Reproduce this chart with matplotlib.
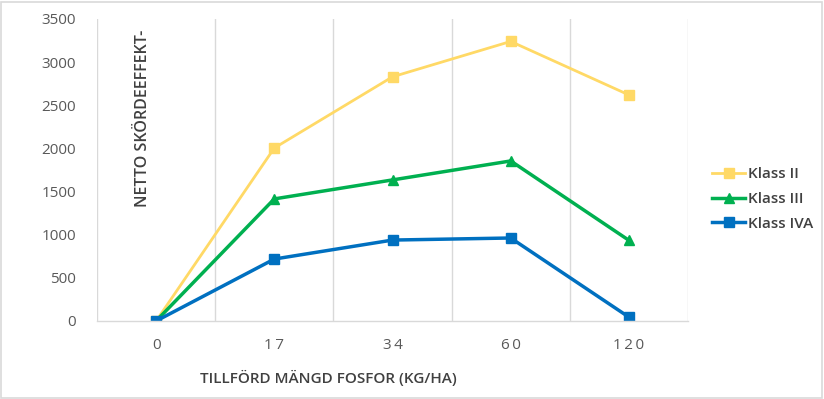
import matplotlib
matplotlib.use("Agg")
import matplotlib.pyplot as plt
from matplotlib.lines import Line2D
from matplotlib.patches import Rectangle
import numpy as np

categories = ["0", "17", "34", "60", "120"]
klass_ii = [0, 2005, 2830, 3240, 2620]
klass_iii = [0, 1415, 1635, 1855, 935]
klass_iva = [0, 718, 938, 962, 45]
series_names = ["Klass II", "Klass III", "Klass IVA"]
colors = ["#FFD966", "#00B050", "#0070C0"]
yticks = [0, 500, 1000, 1500, 2000, 2500, 3000, 3500]

plt.rcParams['font.family'] = ['Open Sans', 'DejaVu Sans']

W, H = 824, 399
fig = plt.figure(figsize=(W / 100, H / 100), dpi=100)
ax = fig.add_axes([97 / W, 1 - 321 / H, (688 - 97) / W, (321 - 19) / H])

x = np.arange(len(categories))
ax.plot(x, klass_ii, color=colors[0], lw=2.0, marker="s", ms=7.5, label=series_names[0])
ax.plot(x, klass_iii, color=colors[1], lw=2.5, marker="^", ms=7.5, label=series_names[1])
ax.plot(x, klass_iva, color=colors[2], lw=2.5, marker="s", ms=7, label=series_names[2])

ax.set_xlim(-0.5, len(categories) - 0.5)
ax.set_ylim(0, 3500)
ax.set_yticks(yticks)
ax.set_yticklabels([str(v) for v in yticks], fontsize=11, color="#595959")
ax.set_xticks(x)
ax.set_xticklabels(["\u2009".join(c) for c in categories], fontsize=11, color="#595959")
ax.set_xticks(np.arange(-0.5, len(categories), 1.0), minor=True)
ax.grid(True, which="minor", axis="x", color="#d9d9d9", lw=1)
ax.grid(False, which="major")
ax.tick_params(axis="both", which="both", length=0)
ax.tick_params(axis="x", pad=12)
ax.tick_params(axis="y", pad=15)
for s in ["top", "right", "left"]:
    ax.spines[s].set_visible(False)
ax.spines["bottom"].set_color("#d9d9d9")
ax.spines["bottom"].set_linewidth(1)
ax.set_axisbelow(True)

fig.text(143 / W, 1 - 118 / H, "NETTO SKÖRDEEFFEKT-", rotation=90, ha="center", va="center",
         fontsize=11.5, color="#404040", fontweight="semibold")
fig.text(200 / W, 1 - 378 / H, "TILLFÖRD MÄNGD FOSFOR (KG/HA)", ha="left", va="center",
         fontsize=11, color="#404040", fontweight="semibold")

handles = [Line2D([0], [0], color=colors[0], lw=2.0, marker="s", ms=7),
           Line2D([0], [0], color=colors[1], lw=2.5, marker="^", ms=7),
           Line2D([0], [0], color=colors[2], lw=2.5, marker="s", ms=6.5)]
fig.legend(handles, series_names, loc="center left", bbox_to_anchor=(698 / W, 1 - 199 / H),
           frameon=False, handlelength=2.2, handletextpad=0.2, labelspacing=0.7,
           labelcolor="#404040", prop={'weight': 'semibold', 'size': 11})

fig.patches.append(Rectangle((1 / W, 1 / H), 1 - 3 / W, 1 - 3 / H, transform=fig.transFigure,
                             fill=False, edgecolor="#d9d9d9", lw=1.2))

fig.savefig("out.png", dpi=100, facecolor="white")
